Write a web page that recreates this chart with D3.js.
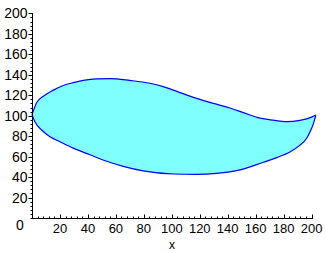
<!DOCTYPE html>
<html>
<head>
  <meta charset="utf-8">
  <style>
    body { margin: 0; background: #fff; }
    text { font-family: "Liberation Sans", Arial, sans-serif; font-size: 13px; fill: #000; }
  </style>
</head>
<body>
<svg width="326" height="253"></svg>
<script src="https://cdn.jsdelivr.net/npm/d3@7/dist/d3.min.js"></script>
<script>

// upper edge, left to right
var upperX = [0, 3.3, 8.1, 15.3, 22.4, 29.5, 36.7, 46.3, 56, 70, 84.4, 93.9, 105.9, 117.8, 129.7, 141.6, 151.2, 163.1, 172.6, 182, 191.7, 200, 203];
var upperY = [101, 112.7, 119, 125, 129.5, 132.3, 134.5, 136, 136.3, 134.5, 131.7, 128.4, 122.6, 117, 112, 107.5, 103, 97.6, 95.6, 94.2, 95.4, 98.6, 100.7];

// lower edge, left to right
var lowerX = [0, 2.1, 6.9, 12.9, 20, 29.5, 41.5, 53.4, 65.3, 79.6, 101, 117.8, 132, 148.8, 165.5, 175, 184.5, 191, 196.5, 199.5, 201.5, 203];
var lowerY = [101, 94, 86, 79.5, 74.6, 68.3, 61.8, 55.5, 50.5, 46, 43, 42.7, 43.6, 47, 54.5, 59, 64.5, 70.5, 78, 86, 93, 100.7];

var xTicks = [20, 40, 60, 80, 100, 120, 140, 160, 180, 200];
var yTicks = [20, 40, 60, 80, 100, 120, 140, 160, 180, 200];

var svg = d3.select("svg");

var x = d3.scaleLinear().domain([0, 200]).range([32, 311.6]);
var y = d3.scaleLinear().domain([0, 200]).range([218, 13.4]);

var upper = upperX.map(function(d, i) { return [d, upperY[i]]; });
var lower = lowerX.map(function(d, i) { return [d, lowerY[i]]; });

var line = d3.line()
    .x(function(d) { return x(d[0]); })
    .y(function(d) { return y(d[1]); })
    .curve(d3.curveMonotoneX);

var shape = line(upper) + "L" + line(lower.slice().reverse()).slice(1) + "Z";

svg.append("path")
    .attr("d", shape)
    .attr("fill", "#80ffff")
    .attr("stroke", "none");

svg.append("path")
    .attr("d", line(upper))
    .attr("fill", "none")
    .attr("stroke", "#0000ff")
    .attr("stroke-width", 1.2);

svg.append("path")
    .attr("d", line(lower))
    .attr("fill", "none")
    .attr("stroke", "#0000ff")
    .attr("stroke-width", 1.2);

// y axis (ticks outward)
var yAxis = svg.append("g").attr("transform", "translate(32.5,0)");
yAxis.append("line").attr("y1", y(200)).attr("y2", y(0)).attr("stroke", "#000");
yAxis.selectAll(".minor").data(d3.range(0, 201, 4)).enter().append("line")
    .attr("x1", -2).attr("x2", 0)
    .attr("y1", function(d) { return Math.round(y(d)) + 0.5; })
    .attr("y2", function(d) { return Math.round(y(d)) + 0.5; })
    .attr("stroke", "#000");
yAxis.selectAll(".major").data(yTicks).enter().append("line")
    .attr("x1", -4).attr("x2", 0)
    .attr("y1", function(d) { return Math.round(y(d)) + 0.5; })
    .attr("y2", function(d) { return Math.round(y(d)) + 0.5; })
    .attr("stroke", "#000");
yAxis.selectAll("text").data(yTicks).enter().append("text")
    .attr("x", -5).attr("y", function(d) { return y(d); })
    .attr("dy", "0.36em")
    .attr("text-anchor", "end")
    .style("font-size", "14px")
    .text(function(d) { return d; });

// x axis (ticks inward)
var xAxis = svg.append("g").attr("transform", "translate(0,218.5)");
xAxis.append("line").attr("x1", x(0)).attr("x2", x(200) + 1).attr("stroke", "#000");
xAxis.selectAll(".minor").data(d3.range(0, 201, 4)).enter().append("line")
    .attr("x1", function(d) { return Math.round(x(d)) + 0.5; })
    .attr("x2", function(d) { return Math.round(x(d)) + 0.5; })
    .attr("y1", -2).attr("y2", 0)
    .attr("stroke", "#000");
xAxis.selectAll(".major").data(xTicks).enter().append("line")
    .attr("x1", function(d) { return Math.round(x(d)) + 0.5; })
    .attr("x2", function(d) { return Math.round(x(d)) + 0.5; })
    .attr("y1", -4).attr("y2", 0)
    .attr("stroke", "#000");
xAxis.selectAll("text").data(xTicks).enter().append("text")
    .attr("x", function(d) { return x(d); })
    .attr("y", 9.5)
    .attr("dy", "0.36em")
    .attr("text-anchor", "middle")
    .text(function(d) { return d; });

// corner zero
svg.append("text").attr("x", 20).attr("y", 225).attr("dy", "0.36em")
    .attr("text-anchor", "middle").style("font-size", "14px").text("0");

svg.append("text").attr("x", 172).attr("y", 245).attr("dy", "0.36em")
    .attr("text-anchor", "middle").style("font-size", "12px").text("x");

</script>
</body>
</html>
